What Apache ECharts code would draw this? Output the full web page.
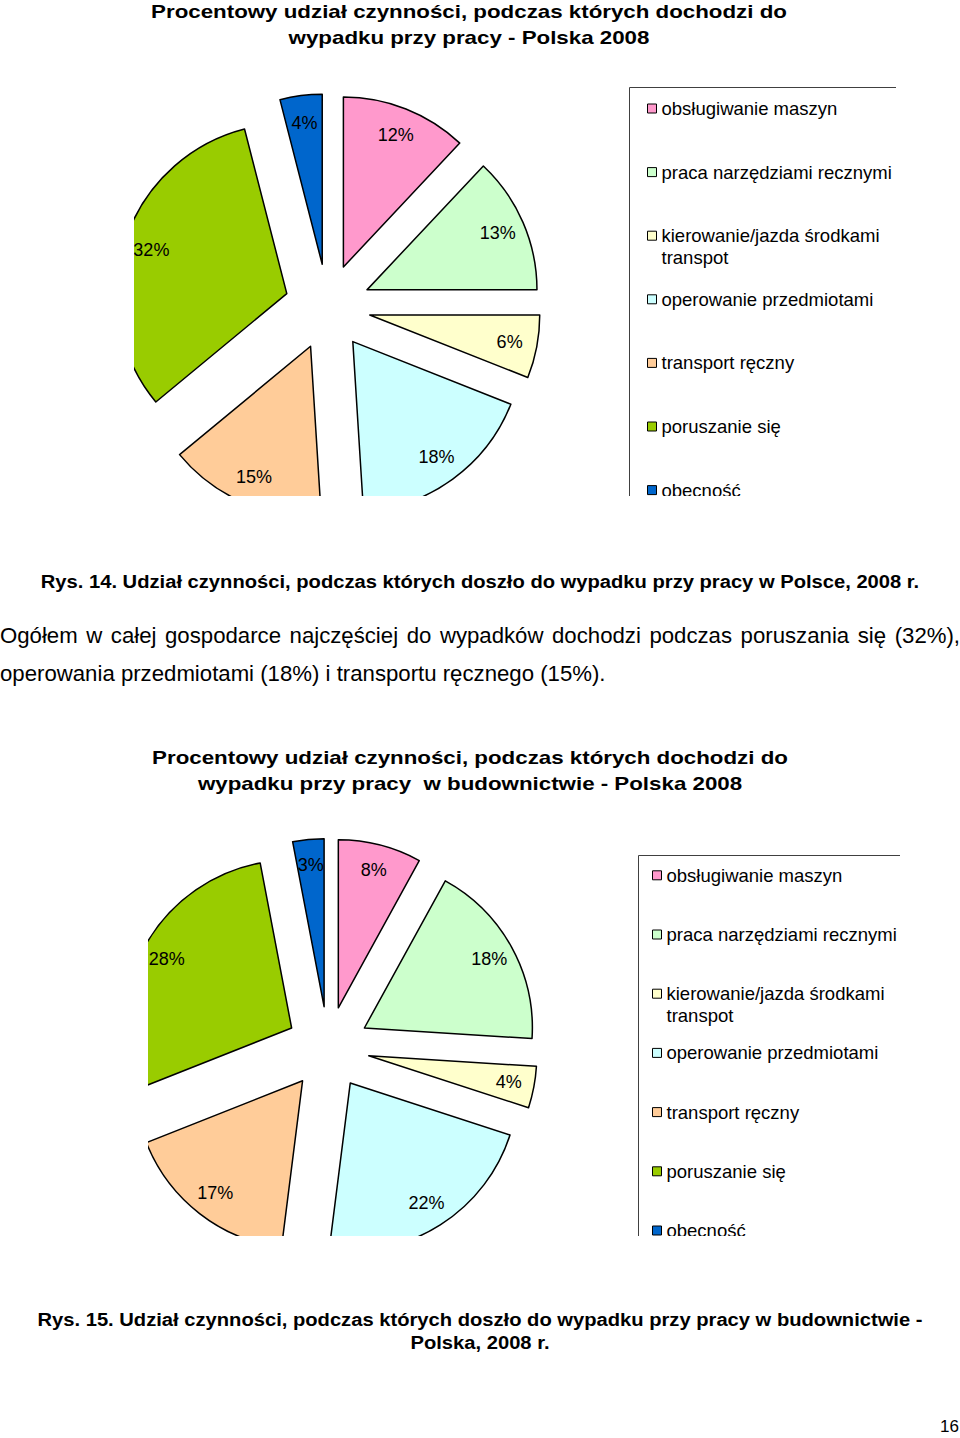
<!DOCTYPE html>
<html>
<head>
<meta charset="utf-8">
<script src="https://cdn.jsdelivr.net/npm/echarts@6/dist/echarts.min.js"></script>
<style>
html,body{margin:0;padding:0;background:#fff;}
body{width:960px;height:1438px;position:relative;overflow:hidden;font-family:"Liberation Sans",Arial,sans-serif;color:#000;}
.clip{position:absolute;overflow:hidden;}
.chart{position:absolute;top:0;}
.txt{position:absolute;left:0;width:960px;white-space:nowrap;}
.cap{font-weight:bold;font-size:18px;line-height:23px;text-align:center;transform:scaleX(1.12);transform-origin:480px 0;}
.par{font-size:22.2px;line-height:38px;}
</style>
</head>
<body>
<div class="clip" style="left:134px;top:0;width:762px;height:496px;">
  <div id="c1" class="chart" style="left:-134px;width:960px;height:720px;"></div>
</div>
<div class="txt cap" style="top:571px;">Rys. 14. Udział czynności, podczas których doszło do wypadku przy pracy w Polsce, 2008 r.</div>
<div class="txt par" style="top:617px;text-align:justify;text-align-last:justify;">Ogółem w całej gospodarce najczęściej do wypadków dochodzi podczas poruszania się (32%),</div>
<div class="txt par" style="top:655px;">operowania przedmiotami (18%) i transportu ręcznego (15%).</div>
<div class="clip" style="left:148px;top:735px;width:752px;height:501px;">
  <div id="c2" class="chart" style="left:-148px;width:960px;height:720px;"></div>
</div>
<div class="txt cap" style="top:1309px;">Rys. 15. Udział czynności, podczas których doszło do wypadku przy pracy w budownictwie -<br>Polska, 2008 r.</div>
<div class="txt" style="top:1417px;left:auto;right:1px;width:auto;font-size:17px;line-height:20px;">16</div>
<script>
// ---- data ----
const categories = [
  'obsługiwanie maszyn',
  'praca narzędziami recznymi',
  'kierowanie/jazda środkami transpot',
  'operowanie przedmiotami',
  'transport ręczny',
  'poruszanie się',
  'obecność'
];
const valuesPolska = [12, 13, 6, 18, 15, 32, 4];
const valuesBudownictwo = [8, 18, 4, 22, 17, 28, 3];
const sliceColors = ['#FF99CC', '#CCFFCC', '#FFFFCC', '#CCFFFF', '#FFCC99', '#99CC00', '#0066CC'];
const titlePolska = 'Procentowy udział czynności, podczas których dochodzi do\nwypadku przy pracy - Polska 2008';
const titleBudownictwo = 'Procentowy udział czynności, podczas których dochodzi do\nwypadku przy pracy  w budownictwie - Polska 2008';
const legendLines = {'kierowanie/jazda środkami transpot': 'kierowanie/jazda środkami\ntranspot'};

function makeOption(cfg) {
  const data = categories.map((name, i) => ({
    name: name, value: cfg.values[i], selected: true,
    itemStyle: {color: sliceColors[i]}
  }));
  const labelData = categories.map((name, i) => ({
    name: name, value: cfg.values[i], selected: true
  }));
  const common = {
    type: 'pie', center: cfg.center, startAngle: 90, clockwise: true,
    selectedMode: 'multiple', selectedOffset: cfg.offset, animation: false,
    emphasis: {disabled: true}, legendHoverLink: false
  };
  // label ring: labels sit at (r0 + r) / 2 = labelRatio * r
  const r0 = cfg.radius * (2 * cfg.labelRatio - 1);
  return {
    animation: false,
    graphic: [{
      type: 'text', x: cfg.titleX, y: cfg.titleY, scaleX: 1.2, silent: true,
      style: {
        text: cfg.title, font: 'bold 18.6px "Liberation Sans"', fill: '#000',
        textAlign: 'center', textVerticalAlign: 'middle', lineHeight: 26
      }
    }, {
      // legend frame (only its top and left edges fall inside the picture)
      type: 'rect', silent: true, z: 1,
      shape: {x: cfg.frameX, y: cfg.frameY, width: 500, height: 600},
      style: {fill: 'none', stroke: '#404040', lineWidth: 1}
    }],
    legend: {
      orient: 'vertical', left: cfg.legendLeft, top: cfg.legendTop, height: 600,
      padding: 0, itemGap: cfg.gap,
      itemWidth: 9, itemHeight: 9, icon: 'rect', selectedMode: false,
      itemStyle: {borderColor: '#000', borderWidth: 1},
      data: categories,
      formatter: n => '\u00a0\n' + (legendLines[n] || (n + '\n\u00a0')),
      textStyle: {
        fontFamily: 'Liberation Sans', fontSize: 18.5, color: '#000', lineHeight: 22
      }
    },
    series: [
      Object.assign({}, common, {
        radius: cfg.radius, data: data,
        label: {show: false}, labelLine: {show: false},
        itemStyle: {borderColor: '#000', borderWidth: 1.5}
      }),
      Object.assign({}, common, {
        radius: [r0, cfg.radius], data: labelData, silent: true,
        label: {
          show: true, position: 'inside', formatter: '{c}%',
          fontFamily: 'Liberation Sans', fontSize: 18, color: '#000'
        },
        labelLine: {show: false},
        itemStyle: {color: 'rgba(0,0,0,0)', borderWidth: 0}
      })
    ]
  };
}

const chart1 = echarts.init(document.getElementById('c1'), null, {renderer: 'svg'});
chart1.setOption(makeOption({
  values: valuesPolska, title: titlePolska, titleX: 469, titleY: 24,
  center: [327.6, 306.9], radius: 170, offset: 42.9, labelRatio: 0.82,
  legendLeft: 647, legendTop: 75.5, gap: -2.4, frameX: 629.5, frameY: 87.5
}));

const chart2 = echarts.init(document.getElementById('c2'), null, {renderer: 'svg'});
chart2.setOption(makeOption({
  values: valuesBudownictwo, title: titleBudownictwo, titleX: 470, titleY: 35,
  center: [328, 313], radius: 168, offset: 41.5, labelRatio: 0.83,
  legendLeft: 652, legendTop: 107.3, gap: -6.8, frameX: 638.5, frameY: 120.5
}));
</script>
</body>
</html>
